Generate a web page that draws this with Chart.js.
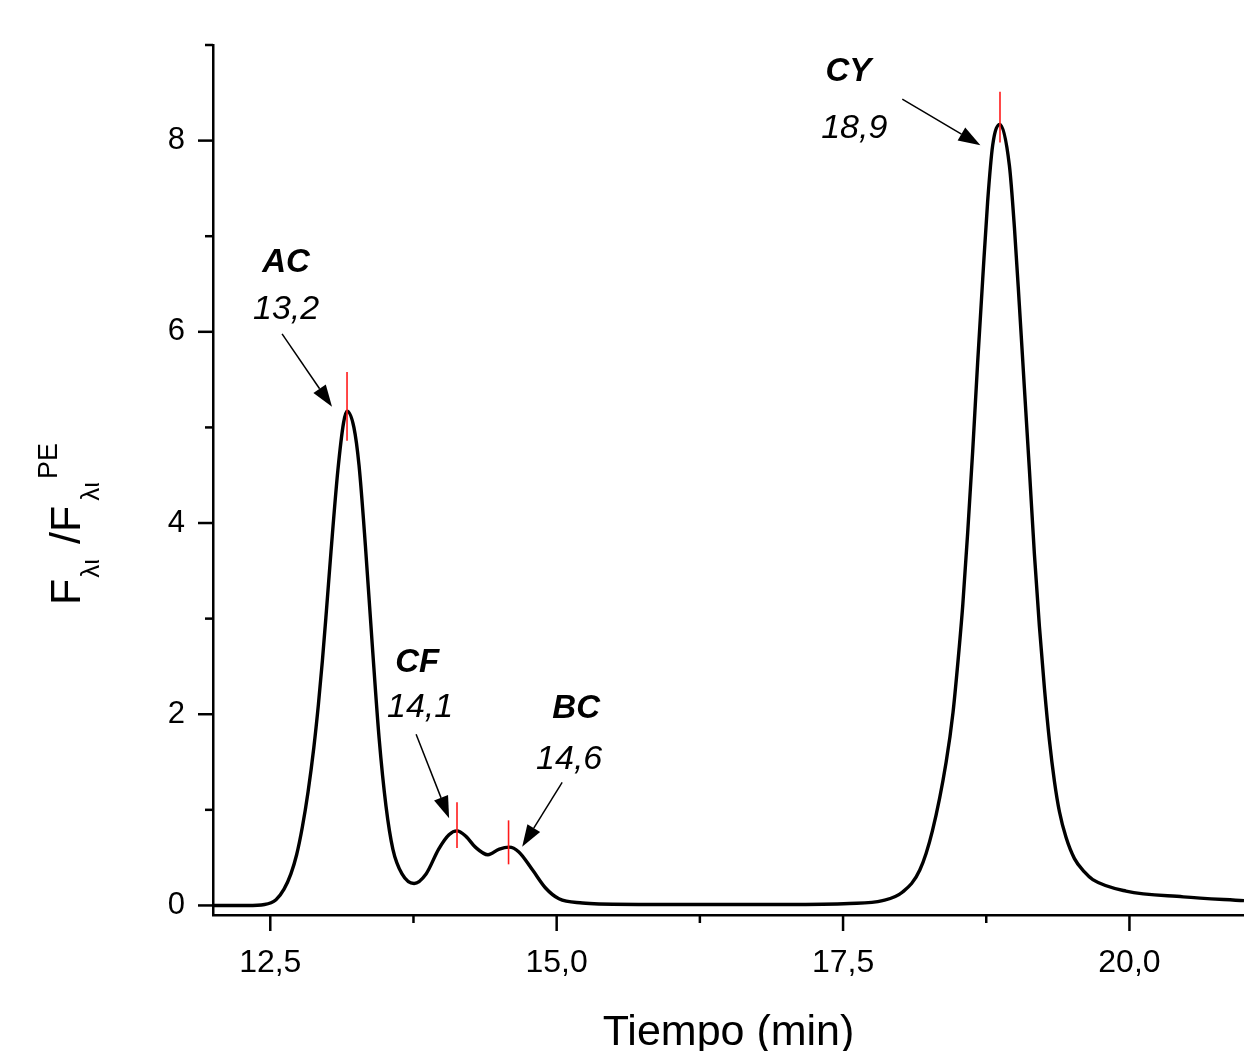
<!DOCTYPE html>
<html>
<head>
<meta charset="utf-8">
<script src="https://cdn.jsdelivr.net/npm/chart.js@4/dist/chart.umd.min.js"></script>
<style>
  html, body { margin: 0; padding: 0; background: #fff; }
</style>
</head>
<body>
<canvas id="cromatograma" width="1244" height="1051"></canvas>
<script>
const tiempos = [
  12.0, 12.3, 12.45, 12.55, 12.62, 12.68, 12.73, 12.78, 12.83, 12.88, 12.92, 12.955,
  12.99, 13.03, 13.09, 13.14, 13.17, 13.23, 13.275, 13.33, 13.39, 13.45, 13.51, 13.57,
  13.65, 13.755, 13.86, 13.97, 14.06, 14.13, 14.21, 14.29, 14.40, 14.50, 14.585, 14.67,
  14.79, 14.905, 15.02, 15.225, 15.37, 16.0, 17.0, 17.555, 17.845, 18.02, 18.17, 18.28,
  18.40, 18.46, 18.515, 18.545, 18.588, 18.632, 18.675, 18.719, 18.762, 18.806, 18.87, 18.952,
  18.996, 19.039, 19.083, 19.127, 19.17, 19.214, 19.258, 19.301, 19.345, 19.389, 19.447,
  19.52, 19.607, 19.68, 19.97, 20.47, 21.0
];
const senal = [
  0.0, 0.0, 0.01, 0.06, 0.17, 0.33, 0.53, 0.82, 1.19, 1.65, 2.10, 2.56,
  3.08, 3.70, 4.55, 5.05, 5.17, 5.00, 4.60, 3.77, 2.73, 1.75, 1.04, 0.59,
  0.33, 0.23, 0.33, 0.59, 0.74, 0.78, 0.72, 0.61, 0.53, 0.59, 0.61, 0.56,
  0.37, 0.18, 0.07, 0.025, 0.015, 0.01, 0.01, 0.02, 0.05, 0.14, 0.37, 0.78,
  1.50, 2.02, 2.71, 3.14, 3.90, 4.76, 5.68, 6.55, 7.36, 7.95, 8.17, 7.74,
  7.09, 6.28, 5.41, 4.55, 3.68, 2.92, 2.27, 1.73, 1.30, 0.98, 0.71,
  0.49, 0.35, 0.27, 0.15, 0.09, 0.05
];

const xTicks = [12.5, 13.75, 15.0, 16.25, 17.5, 18.75, 20.0];
const xLabels = [12.5, 15.0, 17.5, 20.0];
const yTicks = [0, 1, 2, 3, 4, 5, 6, 7, 8, 9];
const yLabels = [0, 2, 4, 6, 8];

// picos marcados
const picoNombres = ["AC", "CF", "BC", "CY"];
const picoTextos = ["13,2", "14,1", "14,6", "18,9"];
const picoTiempos = [13.17, 14.13, 14.58, 18.87];
const marcaAlta = [5.58, 1.08, 0.89, 8.51];
const marcaBaja = [4.86, 0.60, 0.43, 7.98];

// posición de las etiquetas y flechas (en unidades de los ejes)
const etiquetas = [
  { nombre: [12.638, 6.628], texto: [12.638, 6.136], flecha: [12.603, 5.979, 13.039, 5.215] },
  { nombre: [13.782, 2.44], texto: [13.808, 1.969], flecha: [13.773, 1.791, 14.061, 0.911] },
  { nombre: [15.17, 1.958], texto: [15.109, 1.424], flecha: [15.048, 1.288, 14.699, 0.613] },
  { nombre: [17.546, 8.628], texto: [17.598, 8.031], flecha: [18.017, 8.433, 18.699, 7.952] }
];

const FUENTE = '"Liberation Sans", Arial, sans-serif';
const coma = (v) => v.toFixed(1).replace(".", ",");

function flecha(ctx, x0, y0, x1, y1) {
  const ang = Math.atan2(y1 - y0, x1 - x0);
  const largo = 22, ancho = 7.5;
  const bx = x1 - largo * Math.cos(ang), by = y1 - largo * Math.sin(ang);
  ctx.beginPath();
  ctx.moveTo(x0, y0);
  ctx.lineTo(bx, by);
  ctx.lineWidth = 1.5;
  ctx.strokeStyle = "#000";
  ctx.stroke();
  ctx.beginPath();
  ctx.moveTo(x1, y1);
  ctx.lineTo(bx + ancho * Math.sin(ang), by - ancho * Math.cos(ang));
  ctx.lineTo(bx - ancho * Math.sin(ang), by + ancho * Math.cos(ang));
  ctx.closePath();
  ctx.fillStyle = "#000";
  ctx.fill();
}

const anotaciones = {
  id: "anotaciones",
  afterDatasetsDraw(chart) {
    const { ctx, scales: { x, y } } = chart;
    ctx.save();
    // marcas rojas en los picos
    picoTiempos.forEach((t, i) => {
      const px = x.getPixelForValue(t);
      ctx.beginPath();
      ctx.moveTo(px, y.getPixelForValue(marcaAlta[i]));
      ctx.lineTo(px, y.getPixelForValue(marcaBaja[i]));
      ctx.strokeStyle = "#ff1a1a";
      ctx.lineWidth = 1.6;
      ctx.stroke();
    });
    // etiquetas y flechas
    etiquetas.forEach((e, i) => {
      ctx.fillStyle = "#000";
      ctx.textAlign = "center";
      ctx.textBaseline = "alphabetic";
      ctx.font = "italic bold 33px " + FUENTE;
      ctx.fillText(picoNombres[i], x.getPixelForValue(e.nombre[0]), y.getPixelForValue(e.nombre[1]));
      ctx.font = "italic 34px " + FUENTE;
      ctx.fillText(picoTextos[i], x.getPixelForValue(e.texto[0]), y.getPixelForValue(e.texto[1]));
      const f = e.flecha;
      flecha(ctx, x.getPixelForValue(f[0]), y.getPixelForValue(f[1]),
        x.getPixelForValue(f[2]), y.getPixelForValue(f[3]));
    });
    ctx.restore();
  },
  afterDraw(chart) {
    const { ctx, chartArea, scales: { x, y } } = chart;
    ctx.save();
    ctx.strokeStyle = "#000";
    ctx.lineWidth = 2.5;
    // marcas de los ejes (mayores y menores)
    x.ticks.forEach((tk) => {
      const px = x.getPixelForValue(tk.value);
      const largo = xLabels.includes(tk.value) ? 16 : 8;
      ctx.beginPath();
      ctx.moveTo(px, chartArea.bottom);
      ctx.lineTo(px, chartArea.bottom + largo);
      ctx.stroke();
    });
    y.ticks.forEach((tk) => {
      const py = y.getPixelForValue(tk.value);
      const largo = yLabels.includes(tk.value) ? 15 : 8;
      ctx.beginPath();
      ctx.moveTo(chartArea.left, py);
      ctx.lineTo(chartArea.left - largo, py);
      ctx.stroke();
    });

    // título eje x
    ctx.fillStyle = "#000";
    ctx.font = "43px " + FUENTE;
    ctx.textAlign = "center";
    ctx.textBaseline = "alphabetic";
    ctx.fillText("Tiempo (min)", (chartArea.left + chartArea.right) / 2, chartArea.bottom + 130);

    // título eje y: F_λι /F_λι^PE
    ctx.translate(80, 605);
    ctx.rotate(-Math.PI / 2);
    ctx.textAlign = "left";
    const grande = "43px " + FUENTE;
    const chica = "26px " + FUENTE;
    let u = 0;
    ctx.font = grande;
    ctx.fillText("F", u, 0);
    u += ctx.measureText("F").width + 1;
    ctx.font = chica;
    ctx.fillText("λι", u, 19);
    u += ctx.measureText("λι").width + 15;
    ctx.font = grande;
    ctx.fillText("/F", u, 0);
    u += ctx.measureText("/F").width + 5;
    ctx.font = chica;
    ctx.fillText("λι", u, 19);
    u += ctx.measureText("λι").width + 3;
    ctx.font = "27px " + FUENTE;
    ctx.fillText("PE", u, -23);
    ctx.restore();
  }
};

const ctx = document.getElementById("cromatograma").getContext("2d");
new Chart(ctx, {
  type: "line",
  data: {
    datasets: [
      {
        data: tiempos.map((t, i) => ({ x: t, y: senal[i] })),
        borderColor: "#000",
        borderWidth: 3.4,
        pointRadius: 0,
        fill: false,
        cubicInterpolationMode: "monotone",
      },
    ],
  },
  options: {
    responsive: false,
    animation: false,
    layout: { padding: { top: 45, right: 0, left: 0, bottom: 0 } },
    plugins: {
      legend: { display: false },
      tooltip: { enabled: false },
    },
    scales: {
      x: {
        type: "linear",
        min: 12,
        max: 21,
        afterBuildTicks: (s) => { s.ticks = xTicks.map((v) => ({ value: v })); },
        afterFit: (s) => { s.height = 136; s.paddingLeft = 0; s.paddingRight = 0; },
        grid: { display: false },
        border: { display: true, color: "#000", width: 2.5 },
        ticks: {
          autoSkip: false,
          maxRotation: 0,
          padding: 21,
          color: "#000",
          font: { family: FUENTE, size: 32 },
          callback: (v) => (xLabels.includes(v) ? coma(v) : ""),
        },
      },
      y: {
        type: "linear",
        min: -0.1,
        max: 9,
        afterBuildTicks: (s) => { s.ticks = yTicks.map((v) => ({ value: v })); },
        afterFit: (s) => { s.width = 213; s.paddingTop = 0; s.paddingBottom = 0; },
        grid: { display: false },
        border: { display: true, color: "#000", width: 2.5 },
        ticks: {
          autoSkip: false,
          padding: 20,
          color: "#000",
          font: { family: FUENTE, size: 31 },
          callback: (v) => (yLabels.includes(v) ? String(v) : ""),
        },
      },
    },
  },
  plugins: [anotaciones],
});
</script>
</body>
</html>
